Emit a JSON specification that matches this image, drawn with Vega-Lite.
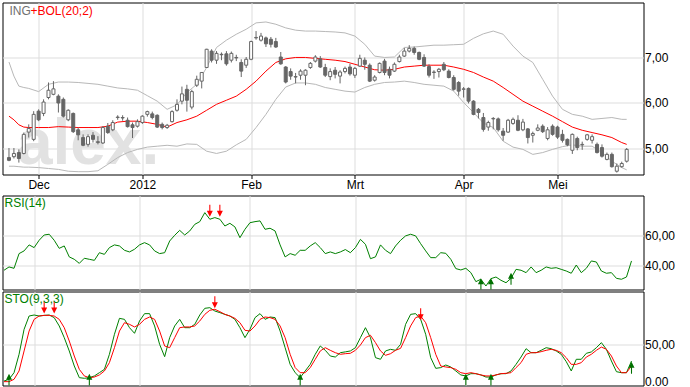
{
  "$schema": "https://vega.github.io/schema/vega-lite/v6.json",
  "background": "white",
  "padding": {"left": 1.5, "top": 1.5, "right": 0, "bottom": 3},
  "spacing": 2,
  "bounds": "flush",
  "config": {
    "font": "Liberation Sans",
    "locale": {"number": {"decimal": ",", "thousands": ".", "grouping": [3], "currency": ["", " €"]}},
    "view": {"stroke": "#000000", "strokeWidth": 1},
    "axis": {"domain": false, "gridColor": "#dddddd", "gridWidth": 1, "labelFont": "Liberation Sans", "labelFontSize": 12, "labelColor": "#000000", "tickColor": "#000000"}
  },
  "datasets": {
    "candles": [
      {"i":0,"o":4.79,"h":5.00,"l":4.71,"c":4.73},{"i":1,"o":4.81,"h":5.00,"l":4.77,"c":4.88},{"i":2,"o":4.90,"h":4.97,"l":4.68,"c":4.77},{"i":3,"o":4.88,"h":5.34,"l":4.86,"c":5.30},
      {"i":4,"o":5.35,"h":5.52,"l":5.23,"c":5.43},{"i":5,"o":5.19,"h":5.81,"l":5.15,"c":5.74},{"i":6,"o":5.81,"h":5.85,"l":5.59,"c":5.62},{"i":7,"o":5.76,"h":6.07,"l":5.70,"c":6.01},
      {"i":8,"o":6.11,"h":6.44,"l":6.07,"c":6.27},{"i":9,"o":6.18,"h":6.47,"l":6.16,"c":6.30},{"i":10,"o":6.14,"h":6.18,"l":5.78,"c":5.99},{"i":11,"o":6.07,"h":6.11,"l":5.67,"c":5.70},
      {"i":12,"o":5.62,"h":5.85,"l":5.59,"c":5.83},{"i":13,"o":5.76,"h":5.78,"l":5.33,"c":5.36},{"i":14,"o":5.40,"h":5.45,"l":5.17,"c":5.29},{"i":15,"o":5.23,"h":5.30,"l":5.04,"c":5.06},
      {"i":16,"o":5.08,"h":5.30,"l":5.03,"c":5.25},{"i":17,"o":5.28,"h":5.35,"l":5.12,"c":5.19},{"i":18,"o":5.12,"h":5.26,"l":5.08,"c":5.14},{"i":19,"o":5.11,"h":5.48,"l":5.09,"c":5.45},
      {"i":20,"o":5.48,"h":5.55,"l":5.31,"c":5.34},{"i":21,"o":5.40,"h":5.61,"l":5.37,"c":5.56},{"i":22,"o":5.67,"h":5.72,"l":5.62,"c":5.68},{"i":23,"o":5.67,"h":5.72,"l":5.60,"c":5.66},
      {"i":24,"o":5.61,"h":5.67,"l":5.45,"c":5.47},{"i":25,"o":5.51,"h":5.56,"l":5.22,"c":5.45},{"i":26,"o":5.48,"h":5.63,"l":5.45,"c":5.58},{"i":27,"o":5.56,"h":5.72,"l":5.53,"c":5.70},
      {"i":28,"o":5.74,"h":5.82,"l":5.69,"c":5.80},{"i":29,"o":5.75,"h":5.80,"l":5.63,"c":5.67},{"i":30,"o":5.72,"h":5.74,"l":5.44,"c":5.46},{"i":31,"o":5.52,"h":5.56,"l":5.41,"c":5.45},
      {"i":32,"o":5.45,"h":5.53,"l":5.42,"c":5.50},{"i":33,"o":5.58,"h":5.83,"l":5.56,"c":5.80},{"i":34,"o":5.83,"h":6.07,"l":5.80,"c":5.96},{"i":35,"o":6.03,"h":6.35,"l":5.96,"c":6.19},
      {"i":36,"o":6.29,"h":6.39,"l":5.80,"c":6.05},{"i":37,"o":5.90,"h":6.28,"l":5.85,"c":6.24},{"i":38,"o":6.38,"h":6.59,"l":6.34,"c":6.51},{"i":39,"o":6.47,"h":6.67,"l":6.31,"c":6.66},
      {"i":40,"o":6.77,"h":7.18,"l":6.77,"c":7.17},{"i":41,"o":7.13,"h":7.17,"l":6.88,"c":6.93},{"i":42,"o":6.93,"h":7.13,"l":6.85,"c":7.08},{"i":43,"o":7.06,"h":7.10,"l":6.93,"c":7.05},
      {"i":44,"o":7.07,"h":7.13,"l":6.81,"c":6.85},{"i":45,"o":6.93,"h":7.12,"l":6.88,"c":7.08},{"i":46,"o":6.99,"h":7.05,"l":6.91,"c":6.98},{"i":47,"o":6.88,"h":6.95,"l":6.56,"c":6.69},
      {"i":48,"o":6.82,"h":7.00,"l":6.76,"c":6.95},{"i":49,"o":6.95,"h":7.36,"l":6.93,"c":7.34},{"i":50,"o":7.42,"h":7.57,"l":7.38,"c":7.43},{"i":51,"o":7.37,"h":7.53,"l":7.34,"c":7.46},
      {"i":52,"o":7.42,"h":7.45,"l":7.22,"c":7.29},{"i":53,"o":7.39,"h":7.44,"l":7.21,"c":7.28},{"i":54,"o":7.34,"h":7.42,"l":7.20,"c":7.22},{"i":55,"o":7.00,"h":7.11,"l":6.83,"c":6.85},
      {"i":56,"o":6.78,"h":6.80,"l":6.42,"c":6.45},{"i":57,"o":6.68,"h":6.75,"l":6.50,"c":6.58},{"i":58,"o":6.56,"h":6.65,"l":6.42,"c":6.57},{"i":59,"o":6.60,"h":6.73,"l":6.50,"c":6.69},
      {"i":60,"o":6.60,"h":6.73,"l":6.38,"c":6.71},{"i":61,"o":6.77,"h":6.89,"l":6.74,"c":6.86},{"i":62,"o":6.91,"h":7.04,"l":6.88,"c":7.00},{"i":63,"o":6.96,"h":7.02,"l":6.76,"c":6.78},
      {"i":64,"o":6.77,"h":6.85,"l":6.56,"c":6.60},{"i":65,"o":6.57,"h":6.75,"l":6.49,"c":6.68},{"i":66,"o":6.71,"h":6.78,"l":6.53,"c":6.62},{"i":67,"o":6.58,"h":6.71,"l":6.42,"c":6.67},
      {"i":68,"o":6.68,"h":6.79,"l":6.64,"c":6.75},{"i":69,"o":6.78,"h":6.85,"l":6.59,"c":6.63},{"i":70,"o":6.60,"h":6.78,"l":6.54,"c":6.75},{"i":71,"o":6.80,"h":7.05,"l":6.78,"c":6.97},
      {"i":72,"o":6.93,"h":6.99,"l":6.72,"c":6.84},{"i":73,"o":6.82,"h":6.86,"l":6.45,"c":6.47},{"i":74,"o":6.49,"h":6.60,"l":6.46,"c":6.56},{"i":75,"o":6.66,"h":6.88,"l":6.64,"c":6.86},
      {"i":76,"o":6.91,"h":6.96,"l":6.60,"c":6.66},{"i":77,"o":6.73,"h":6.79,"l":6.53,"c":6.60},{"i":78,"o":6.69,"h":6.88,"l":6.67,"c":6.84},{"i":79,"o":6.90,"h":7.05,"l":6.88,"c":7.00},
      {"i":80,"o":7.02,"h":7.20,"l":7.00,"c":7.13},{"i":81,"o":7.13,"h":7.26,"l":7.10,"c":7.19},{"i":82,"o":7.19,"h":7.23,"l":7.05,"c":7.10},{"i":83,"o":7.10,"h":7.12,"l":6.93,"c":6.95},
      {"i":84,"o":6.99,"h":7.06,"l":6.78,"c":6.80},{"i":85,"o":6.79,"h":6.84,"l":6.55,"c":6.60},{"i":86,"o":6.66,"h":6.71,"l":6.52,"c":6.67},{"i":87,"o":6.68,"h":6.76,"l":6.55,"c":6.73},
      {"i":88,"o":6.84,"h":6.89,"l":6.69,"c":6.72},{"i":89,"o":6.69,"h":6.73,"l":6.53,"c":6.55},{"i":90,"o":6.55,"h":6.60,"l":6.26,"c":6.29},{"i":91,"o":6.44,"h":6.47,"l":6.15,"c":6.25},
      {"i":92,"o":6.29,"h":6.34,"l":6.11,"c":6.30},{"i":93,"o":6.31,"h":6.33,"l":5.98,"c":6.03},{"i":94,"o":6.03,"h":6.05,"l":5.72,"c":5.74},{"i":95,"o":5.85,"h":5.88,"l":5.65,"c":5.78},
      {"i":96,"o":5.67,"h":5.77,"l":5.36,"c":5.41},{"i":97,"o":5.46,"h":5.60,"l":5.38,"c":5.56},{"i":98,"o":5.64,"h":5.68,"l":5.41,"c":5.65},{"i":99,"o":5.64,"h":5.67,"l":5.36,"c":5.40},
      {"i":100,"o":5.37,"h":5.44,"l":5.16,"c":5.28},{"i":101,"o":5.35,"h":5.64,"l":5.33,"c":5.61},{"i":102,"o":5.54,"h":5.67,"l":5.51,"c":5.63},{"i":103,"o":5.61,"h":5.72,"l":5.37,"c":5.39},
      {"i":104,"o":5.40,"h":5.64,"l":5.37,"c":5.57},{"i":105,"o":5.42,"h":5.44,"l":5.10,"c":5.23},{"i":106,"o":5.28,"h":5.36,"l":5.12,"c":5.32},{"i":107,"o":5.39,"h":5.52,"l":5.37,"c":5.44},
      {"i":108,"o":5.48,"h":5.52,"l":5.33,"c":5.36},{"i":109,"o":5.21,"h":5.46,"l":5.17,"c":5.40},{"i":110,"o":5.48,"h":5.52,"l":5.27,"c":5.30},{"i":111,"o":5.46,"h":5.49,"l":5.20,"c":5.24},
      {"i":112,"o":5.30,"h":5.40,"l":5.12,"c":5.17},{"i":113,"o":5.19,"h":5.21,"l":5.04,"c":5.07},{"i":114,"o":4.95,"h":5.32,"l":4.87,"c":5.30},{"i":115,"o":5.21,"h":5.25,"l":4.95,"c":5.01},
      {"i":116,"o":5.07,"h":5.14,"l":4.96,"c":5.08},{"i":117,"o":5.19,"h":5.31,"l":5.16,"c":5.29},{"i":118,"o":5.17,"h":5.30,"l":5.10,"c":5.25},{"i":119,"o":5.08,"h":5.12,"l":4.88,"c":4.90},
      {"i":120,"o":5.01,"h":5.08,"l":4.79,"c":4.82},{"i":121,"o":4.75,"h":4.90,"l":4.73,"c":4.86},{"i":122,"o":4.86,"h":4.90,"l":4.57,"c":4.59},{"i":123,"o":4.49,"h":4.66,"l":4.46,"c":4.60},
      {"i":124,"o":4.59,"h":4.70,"l":4.57,"c":4.66},{"i":125,"o":4.71,"h":5.00,"l":4.68,"c":4.97}
    ],
    "bands": [
      {"i":0,"u":6.89,"m":5.70,"lo":4.60},{"i":1,"u":6.58,"m":5.62,"lo":4.60},{"i":2,"u":6.36,"m":5.51,"lo":4.59},{"i":3,"u":6.33,"m":5.46,"lo":4.58},{"i":4,"u":6.31,"m":5.45,"lo":4.58},
      {"i":6,"u":6.24,"m":5.45,"lo":4.57},{"i":8,"u":6.40,"m":5.45,"lo":4.55},{"i":10,"u":6.45,"m":5.47,"lo":4.53},{"i":12,"u":6.45,"m":5.46,"lo":4.49},{"i":14,"u":6.44,"m":5.45,"lo":4.48},
      {"i":16,"u":6.42,"m":5.45,"lo":4.48},{"i":18,"u":6.40,"m":5.45,"lo":4.50},{"i":20,"u":6.36,"m":5.48,"lo":4.64},{"i":22,"u":6.32,"m":5.57,"lo":4.79},{"i":24,"u":6.30,"m":5.59,"lo":4.90},
      {"i":26,"u":6.27,"m":5.59,"lo":4.97},{"i":28,"u":6.15,"m":5.56,"lo":5.02},{"i":30,"u":6.03,"m":5.52,"lo":5.04},{"i":32,"u":5.85,"m":5.46,"lo":5.06},{"i":34,"u":5.95,"m":5.56,"lo":5.04},
      {"i":36,"u":6.22,"m":5.62,"lo":5.09},{"i":38,"u":6.40,"m":5.70,"lo":5.08},{"i":40,"u":6.77,"m":5.83,"lo":4.93},{"i":42,"u":7.21,"m":5.96,"lo":4.88},{"i":44,"u":7.37,"m":6.05,"lo":4.93},
      {"i":46,"u":7.50,"m":6.14,"lo":5.07},{"i":48,"u":7.61,"m":6.29,"lo":5.19},{"i":50,"u":7.75,"m":6.47,"lo":5.45},{"i":52,"u":7.77,"m":6.69,"lo":5.74},{"i":54,"u":7.72,"m":6.88,"lo":6.07},
      {"i":56,"u":7.64,"m":6.96,"lo":6.34},{"i":58,"u":7.59,"m":6.99,"lo":6.43},{"i":60,"u":7.57,"m":6.99,"lo":6.43},{"i":62,"u":7.57,"m":6.97,"lo":6.40},{"i":64,"u":7.56,"m":6.95,"lo":6.33},
      {"i":66,"u":7.55,"m":6.93,"lo":6.29},{"i":68,"u":7.53,"m":6.90,"lo":6.25},{"i":70,"u":7.46,"m":6.84,"lo":6.23},{"i":72,"u":7.28,"m":6.78,"lo":6.33},{"i":74,"u":7.02,"m":6.72,"lo":6.40},
      {"i":76,"u":6.99,"m":6.71,"lo":6.44},{"i":78,"u":7.00,"m":6.73,"lo":6.45},{"i":80,"u":7.21,"m":6.78,"lo":6.47},{"i":82,"u":7.22,"m":6.80,"lo":6.44},{"i":84,"u":7.24,"m":6.82,"lo":6.40},
      {"i":86,"u":7.26,"m":6.82,"lo":6.38},{"i":88,"u":7.26,"m":6.82,"lo":6.36},{"i":90,"u":7.27,"m":6.78,"lo":6.25},{"i":92,"u":7.28,"m":6.73,"lo":6.00},{"i":94,"u":7.41,"m":6.66,"lo":5.78},
      {"i":96,"u":7.51,"m":6.56,"lo":5.55},{"i":98,"u":7.57,"m":6.47,"lo":5.45},{"i":100,"u":7.50,"m":6.33,"lo":5.15},{"i":102,"u":7.24,"m":6.18,"lo":5.02},{"i":104,"u":7.02,"m":6.03,"lo":4.97},
      {"i":106,"u":6.88,"m":5.92,"lo":4.86},{"i":108,"u":6.51,"m":5.81,"lo":4.90},{"i":110,"u":6.14,"m":5.70,"lo":4.97},{"i":112,"u":5.85,"m":5.58,"lo":5.03},{"i":114,"u":5.74,"m":5.46,"lo":5.07},
      {"i":116,"u":5.70,"m":5.39,"lo":5.04},{"i":118,"u":5.63,"m":5.34,"lo":5.04},{"i":120,"u":5.65,"m":5.29,"lo":4.90},{"i":122,"u":5.67,"m":5.23,"lo":4.71},{"i":124,"u":5.63,"m":5.12,"lo":4.57},
      {"i":125,"u":5.63,"m":5.08,"lo":4.52}
    ],
    "ind": [
      {"i":0,"rsi":36.7,"k":9.3,"d":8.6},{"i":1,"rsi":38.9,"k":11.2,"d":8.6},{"i":2,"rsi":38.0,"k":18.5,"d":11.2},{"i":3,"rsi":47.8,"k":38.8,"d":20.4},
      {"i":4,"rsi":49.6,"k":66.4,"d":42.5},{"i":5,"rsi":53.6,"k":81.1,"d":64.5},{"i":6,"rsi":51.8,"k":82.2,"d":77.4},{"i":7,"rsi":56.7,"k":81.1,"d":81.1},
      {"i":8,"rsi":60.2,"k":81.8,"d":81.8},{"i":9,"rsi":60.7,"k":82.2,"d":81.8},{"i":10,"rsi":56.7,"k":79.3,"d":81.1},{"i":11,"rsi":51.3,"k":70.1,"d":77.4},
      {"i":12,"rsi":52.9,"k":57.2,"d":68.2},{"i":13,"rsi":45.6,"k":42.5,"d":53.5},{"i":14,"rsi":44.0,"k":25.9,"d":36.9},{"i":15,"rsi":41.3,"k":13.0,"d":22.2},
      {"i":16,"rsi":44.7,"k":12.3,"d":14.9},{"i":17,"rsi":44.0,"k":13.0,"d":13.0},{"i":18,"rsi":43.3,"k":14.9,"d":13.7},{"i":19,"rsi":48.4,"k":18.5,"d":16.0},
      {"i":20,"rsi":47.3,"k":22.2,"d":20.4},{"i":21,"rsi":51.8,"k":38.8,"d":29.6},{"i":22,"rsi":53.6,"k":60.9,"d":46.1},{"i":23,"rsi":52.9,"k":78.5,"d":64.5},
      {"i":24,"rsi":50.0,"k":77.4,"d":73.7},{"i":25,"rsi":48.9,"k":68.2,"d":71.9},{"i":26,"rsi":50.7,"k":62.0,"d":69.0},{"i":27,"rsi":53.6,"k":75.6,"d":71.9},
      {"i":28,"rsi":55.1,"k":83.7,"d":77.4},{"i":29,"rsi":53.6,"k":83.7,"d":80.0},{"i":30,"rsi":49.6,"k":70.1,"d":77.4},{"i":31,"rsi":47.8,"k":49.8,"d":64.5},
      {"i":32,"rsi":48.4,"k":36.2,"d":48.0},{"i":33,"rsi":56.2,"k":57.2,"d":46.1},{"i":34,"rsi":60.0,"k":70.1,"d":57.2},{"i":35,"rsi":63.3,"k":77.4,"d":68.2},
      {"i":36,"rsi":60.2,"k":68.2,"d":69.0},{"i":37,"rsi":62.9,"k":68.2,"d":69.0},{"i":38,"rsi":67.3,"k":71.9,"d":70.1},{"i":39,"rsi":69.1,"k":82.2,"d":75.6},
      {"i":40,"rsi":75.1,"k":89.6,"d":82.9},{"i":41,"rsi":70.7,"k":90.3,"d":87.4},{"i":42,"rsi":71.8,"k":86.6,"d":88.5},{"i":43,"rsi":70.7,"k":84.8,"d":85.9},
      {"i":44,"rsi":66.2,"k":82.9,"d":82.9},{"i":45,"rsi":68.0,"k":81.1,"d":81.1},{"i":46,"rsi":65.6,"k":77.4,"d":78.5},{"i":47,"rsi":58.4,"k":68.2,"d":73.7},
      {"i":48,"rsi":64.0,"k":57.2,"d":65.3},{"i":49,"rsi":68.4,"k":66.4,"d":64.5},{"i":50,"rsi":69.1,"k":79.3,"d":70.1},{"i":51,"rsi":69.6,"k":83.7,"d":77.4},
      {"i":52,"rsi":64.0,"k":77.4,"d":80.0},{"i":53,"rsi":64.7,"k":80.0,"d":79.3},{"i":54,"rsi":62.9,"k":79.3,"d":77.4},{"i":55,"rsi":53.6,"k":64.5,"d":70.1},
      {"i":56,"rsi":45.6,"k":46.1,"d":57.2},{"i":57,"rsi":47.8,"k":27.7,"d":38.8},{"i":58,"rsi":46.7,"k":18.5,"d":24.1},{"i":59,"rsi":50.0,"k":13.0,"d":18.5},
      {"i":60,"rsi":50.0,"k":20.4,"d":18.5},{"i":61,"rsi":52.9,"k":27.7,"d":24.1},{"i":62,"rsi":55.1,"k":38.8,"d":33.3},{"i":63,"rsi":51.8,"k":48.0,"d":42.5},
      {"i":64,"rsi":47.8,"k":43.2,"d":46.1},{"i":65,"rsi":48.9,"k":36.9,"d":43.2},{"i":66,"rsi":47.8,"k":35.8,"d":40.6},{"i":67,"rsi":48.9,"k":40.6,"d":38.8},
      {"i":68,"rsi":50.5,"k":41.5,"d":39.5},{"i":69,"rsi":48.4,"k":42.5,"d":39.9},{"i":70,"rsi":51.8,"k":46.1,"d":43.2},{"i":71,"rsi":57.3,"k":57.2,"d":49.1},
      {"i":72,"rsi":54.0,"k":68.2,"d":57.2},{"i":73,"rsi":44.4,"k":57.2,"d":59.8},{"i":74,"rsi":45.6,"k":35.1,"d":51.7},{"i":75,"rsi":53.6,"k":33.3,"d":42.5},
      {"i":76,"rsi":50.0,"k":42.5,"d":37.7},{"i":77,"rsi":47.8,"k":44.3,"d":39.5},{"i":78,"rsi":52.9,"k":43.2,"d":43.2},{"i":79,"rsi":56.7,"k":49.8,"d":45.4},
      {"i":80,"rsi":59.6,"k":71.9,"d":57.2},{"i":81,"rsi":60.7,"k":82.9,"d":70.1},{"i":82,"rsi":59.6,"k":83.7,"d":79.3},{"i":83,"rsi":54.4,"k":77.4,"d":81.1},
      {"i":84,"rsi":49.6,"k":60.9,"d":73.7},{"i":85,"rsi":45.1,"k":35.1,"d":57.2},{"i":86,"rsi":45.1,"k":23.3,"d":38.8},{"i":87,"rsi":48.4,"k":24.1,"d":25.9},
      {"i":88,"rsi":48.0,"k":27.0,"d":24.8},{"i":89,"rsi":44.0,"k":24.8,"d":24.1},{"i":90,"rsi":37.8,"k":20.4,"d":22.2},{"i":91,"rsi":36.9,"k":16.0,"d":18.5},
      {"i":92,"rsi":38.0,"k":14.9,"d":17.4},{"i":93,"rsi":35.1,"k":17.4,"d":18.5},{"i":94,"rsi":29.1,"k":17.4,"d":17.4},{"i":95,"rsi":30.7,"k":16.0,"d":16.0},
      {"i":96,"rsi":26.2,"k":13.7,"d":14.9},{"i":97,"rsi":31.1,"k":13.7,"d":14.9},{"i":98,"rsi":32.2,"k":16.0,"d":16.0},{"i":99,"rsi":30.0,"k":17.4,"d":17.4},
      {"i":100,"rsi":28.4,"k":17.4,"d":17.8},{"i":101,"rsi":31.3,"k":20.4,"d":18.5},{"i":102,"rsi":37.3,"k":27.7,"d":24.1},{"i":103,"rsi":36.7,"k":35.8,"d":29.6},
      {"i":104,"rsi":35.1,"k":45.0,"d":38.8},{"i":105,"rsi":38.9,"k":40.6,"d":40.6},{"i":106,"rsi":35.1,"k":40.6,"d":40.6},{"i":107,"rsi":36.7,"k":43.2,"d":41.7},
      {"i":108,"rsi":38.9,"k":46.1,"d":43.2},{"i":109,"rsi":38.0,"k":45.0,"d":44.3},{"i":110,"rsi":38.4,"k":42.5,"d":43.2},{"i":111,"rsi":37.3,"k":38.8,"d":40.6},
      {"i":112,"rsi":36.2,"k":30.7,"d":35.1},{"i":113,"rsi":34.7,"k":20.4,"d":27.7},{"i":114,"rsi":40.2,"k":33.3,"d":27.7},{"i":115,"rsi":35.1,"k":33.3,"d":29.6},
      {"i":116,"rsi":38.0,"k":39.9,"d":35.8},{"i":117,"rsi":42.9,"k":41.4,"d":38.8},{"i":118,"rsi":42.2,"k":46.1,"d":43.2},{"i":119,"rsi":36.2,"k":51.7,"d":46.8},
      {"i":120,"rsi":34.7,"k":44.3,"d":44.3},{"i":121,"rsi":35.1,"k":31.4,"d":36.9},{"i":122,"rsi":31.3,"k":19.6,"d":25.9},{"i":123,"rsi":30.7,"k":18.5,"d":18.5},
      {"i":124,"rsi":32.2,"k":18.5,"d":18.5},{"i":125,"rsi":42.9,"k":31.4,"d":25.9}
    ],
    "signals": [
      {"panel":"RSI","i":41,"v":72.4,"dir":"sell"},{"panel":"RSI","i":43,"v":72.4,"dir":"sell"},
      {"panel":"RSI","i":95,"v":31.3,"dir":"buy"},{"panel":"RSI","i":97,"v":31.3,"dir":"buy"},{"panel":"RSI","i":101,"v":35.1,"dir":"buy"},
      {"panel":"STO","i":1,"v":17.4,"dir":"buy"},{"panel":"STO","i":8,"v":84.0,"dir":"sell"},{"panel":"STO","i":10,"v":84.0,"dir":"sell"},
      {"panel":"STO","i":17,"v":17.4,"dir":"buy"},{"panel":"STO","i":42,"v":89.6,"dir":"sell"},{"panel":"STO","i":59,"v":17.4,"dir":"buy"},
      {"panel":"STO","i":83,"v":76.5,"dir":"sell"},{"panel":"STO","i":92,"v":17.4,"dir":"buy"},{"panel":"STO","i":97,"v":17.4,"dir":"buy"},
      {"panel":"STO","i":125,"v":30.7,"dir":"buy"}
    ],
    "levels": [
      {"panel":"RSI","level":70},{"panel":"RSI","level":30},{"panel":"STO","level":80},{"panel":"STO","level":20}
    ]
  },
  "resolve": {"scale": {"x": "independent", "y": "independent"}},
  "vconcat": [
    {
      "width": 641, "height": 172,
      "encoding": {
        "x": {"field": "i", "type": "quantitative",
          "scale": {"domain": [-0.299, 127.39], "nice": false, "zero": false},
          "axis": {"values": [6, 27, 49, 70, 92, 111],
            "labelExpr": "datum.value == 6 ? 'Dec' : datum.value == 27 ? '2012' : datum.value == 49 ? 'Feb' : datum.value == 70 ? 'Mrt' : datum.value == 92 ? 'Apr' : 'Mei'",
            "grid": true, "ticks": true, "tickSize": 4, "labelBaseline": "middle", "labelPadding": 6, "labelFlush": false, "labelOverlap": false, "title": null}}
      },
      "layer": [
        {"data": {"name": "candles"}, "transform": [{"filter": "datum.i == 0"}],
         "mark": {"type": "text", "text": "alex.", "font": "Liberation Sans", "fontWeight": "bold", "fontSize": 64, "color": "#e2e2e2", "align": "left", "baseline": "alphabetic"},
         "encoding": {"x": {"datum": 1.6, "type": "quantitative"}, "y": {"datum": 4.64, "type": "quantitative", "scale": {"domain": [4.418, 8.198], "nice": false, "zero": false}, "axis": {"orient": "right", "values": [5, 6, 7], "format": ".2f", "ticks": false, "labelPadding": 1, "grid": true, "title": null}}}},
        {"data": {"name": "bands"},
         "mark": {"type": "line", "color": "#b8b8b8", "strokeWidth": 1},
         "encoding": {"y": {"field": "u", "type": "quantitative", "scale": {"domain": [4.418, 8.198], "nice": false, "zero": false},
           "axis": {"orient": "right", "values": [5, 6, 7], "format": ".2f", "ticks": false, "labelPadding": 1, "grid": true, "title": null}}}},
        {"data": {"name": "bands"},
         "mark": {"type": "line", "color": "#b8b8b8", "strokeWidth": 1},
         "encoding": {"y": {"field": "lo", "type": "quantitative", "scale": {"domain": [4.418, 8.198], "nice": false, "zero": false}, "axis": {"orient": "right", "values": [5, 6, 7], "format": ".2f", "ticks": false, "labelPadding": 1, "grid": true, "title": null}}}},
        {"data": {"name": "bands"},
         "mark": {"type": "line", "color": "#ff0000", "strokeWidth": 1},
         "encoding": {"y": {"field": "m", "type": "quantitative", "scale": {"domain": [4.418, 8.198], "nice": false, "zero": false}, "axis": {"orient": "right", "values": [5, 6, 7], "format": ".2f", "ticks": false, "labelPadding": 1, "grid": true, "title": null}}}},
        {"data": {"name": "candles"},
         "mark": {"type": "rule", "color": "#666666", "strokeWidth": 1},
         "encoding": {"y": {"field": "l", "type": "quantitative", "scale": {"domain": [4.418, 8.198], "nice": false, "zero": false}, "axis": {"orient": "right", "values": [5, 6, 7], "format": ".2f", "ticks": false, "labelPadding": 1, "grid": true, "title": null}}, "y2": {"field": "h"}}},
        {"data": {"name": "candles"},
         "mark": {"type": "bar", "width": 3, "stroke": "#666666", "strokeWidth": 1},
         "encoding": {"y": {"field": "o", "type": "quantitative", "scale": {"domain": [4.418, 8.198], "nice": false, "zero": false}, "axis": {"orient": "right", "values": [5, 6, 7], "format": ".2f", "ticks": false, "labelPadding": 1, "grid": true, "title": null}}, "y2": {"field": "c"},
           "fill": {"condition": {"test": "datum.c >= datum.o", "value": "#ffffff"}, "value": "#666666"}}},
        {"data": {"name": "candles"}, "transform": [{"filter": "datum.i == 0"}],
         "mark": {"type": "text", "text": "ING", "fontSize": 12, "color": "#707070", "align": "left", "baseline": "alphabetic", "dx": 2, "dy": 12.5},
         "encoding": {"x": {"datum": -0.299, "type": "quantitative"}, "y": {"datum": 8.198, "type": "quantitative", "axis": {"orient": "right", "values": [5, 6, 7], "format": ".2f", "ticks": false, "labelPadding": 1, "grid": true, "title": null}}}},
        {"data": {"name": "candles"}, "transform": [{"filter": "datum.i == 0"}],
         "mark": {"type": "text", "text": "+BOL(20;2)", "fontSize": 12, "color": "#ff0000", "align": "left", "baseline": "alphabetic", "dx": 23, "dy": 12.5},
         "encoding": {"x": {"datum": -0.299, "type": "quantitative"}, "y": {"datum": 8.198, "type": "quantitative", "axis": {"orient": "right", "values": [5, 6, 7], "format": ".2f", "ticks": false, "labelPadding": 1, "grid": true, "title": null}}}}
      ]
    },
    {
      "width": 641, "height": 17,
      "view": {"stroke": null},
      "data": {"values": []},
      "mark": {"type": "point", "opacity": 0},
      "encoding": {}
    },
    {
      "width": 641, "height": 94,
      "title": {"text": "RSI(14)", "anchor": "start", "orient": "top", "frame": "group", "offset": -14, "dx": 2, "color": "#008000", "fontSize": 12, "fontWeight": "normal", "font": "Liberation Sans"},
      "encoding": {
        "x": {"field": "i", "type": "quantitative",
          "scale": {"domain": [-0.299, 127.39], "nice": false, "zero": false},
          "axis": {"values": [6, 27, 49, 70, 92, 111], "labels": false, "ticks": false, "grid": true, "title": null}}
      },
      "layer": [
        {"data": {"name": "levels"}, "transform": [{"filter": "datum.panel == 'RSI'"}],
         "mark": {"type": "rule", "color": "#808080", "strokeWidth": 1},
         "encoding": {"x": {"datum": -0.299}, "x2": {"datum": 125},
           "y": {"field": "level", "type": "quantitative", "scale": {"domain": [23.87, 86.53], "nice": false, "zero": false}, "axis": {"orient": "right", "values": [40, 60], "format": ".2f", "ticks": false, "labelPadding": 1, "grid": true, "title": null}}}},
        {"data": {"name": "ind"},
         "mark": {"type": "line", "color": "#008000", "strokeWidth": 1},
         "encoding": {"y": {"field": "rsi", "type": "quantitative", "scale": {"domain": [23.87, 86.53], "nice": false, "zero": false},
           "axis": {"orient": "right", "values": [40, 60], "format": ".2f", "ticks": false, "labelPadding": 1, "grid": true, "title": null}}}},
        {"data": {"name": "signals"}, "transform": [{"filter": "datum.panel == 'RSI'"}],
         "mark": {"type": "point", "filled": true, "opacity": 1, "size": 144, "strokeWidth": 0, "clip": true},
         "encoding": {"y": {"field": "v", "type": "quantitative", "scale": {"domain": [23.87, 86.53], "nice": false, "zero": false}, "axis": {"orient": "right", "values": [40, 60], "format": ".2f", "ticks": false, "labelPadding": 1, "grid": true, "title": null}},
           "shape": {"field": "dir", "type": "nominal", "scale": {"domain": ["buy", "sell"], "range": ["M0,0L-0.5,1L-0.09,1L-0.09,2L0.09,2L0.09,1L0.5,1Z", "M0,0L-0.5,-1L-0.09,-1L-0.09,-2L0.09,-2L0.09,-1L0.5,-1Z"]}, "legend": null},
           "color": {"field": "dir", "type": "nominal", "scale": {"domain": ["buy", "sell"], "range": ["#007000", "#ff0000"]}, "legend": null}}}
      ]
    },
    {
      "width": 641, "height": 94,
      "title": {"text": "STO(9,3,3)", "anchor": "start", "orient": "top", "frame": "group", "offset": -14, "dx": 2, "color": "#008000", "fontSize": 12, "fontWeight": "normal", "font": "Liberation Sans"},
      "encoding": {
        "x": {"field": "i", "type": "quantitative",
          "scale": {"domain": [-0.299, 127.39], "nice": false, "zero": false},
          "axis": {"values": [6, 27, 49, 70, 92, 111], "labels": false, "ticks": false, "grid": true, "title": null}}
      },
      "layer": [
        {"data": {"name": "levels"}, "transform": [{"filter": "datum.panel == 'STO'"}],
         "mark": {"type": "rule", "color": "#808080", "strokeWidth": 1},
         "encoding": {"x": {"datum": -0.299}, "x2": {"datum": 125},
           "y": {"field": "level", "type": "quantitative", "scale": {"domain": [4.35, 108.16], "nice": false, "zero": false}, "axis": {"orient": "right", "values": [8.5, 50], "format": ".2f", "labelExpr": "datum.value < 10 ? '0.00' : datum.label", "ticks": false, "labelPadding": 1, "grid": true, "title": null, "gridOpacity": {"condition": {"test": "datum.value < 10", "value": 0}, "value": 1}}}}},
        {"data": {"name": "ind"},
         "mark": {"type": "line", "color": "#008000", "strokeWidth": 1},
         "encoding": {"y": {"field": "k", "type": "quantitative", "scale": {"domain": [4.35, 108.16], "nice": false, "zero": false},
           "axis": {"orient": "right", "values": [8.5, 50], "format": ".2f", "labelExpr": "datum.value < 10 ? '0.00' : datum.label", "ticks": false, "labelPadding": 1, "grid": true, "title": null, "gridOpacity": {"condition": {"test": "datum.value < 10", "value": 0}, "value": 1}}}}},
        {"data": {"name": "ind"},
         "mark": {"type": "line", "color": "#ff0000", "strokeWidth": 1},
         "encoding": {"y": {"field": "d", "type": "quantitative", "scale": {"domain": [4.35, 108.16], "nice": false, "zero": false}, "axis": {"orient": "right", "values": [8.5, 50], "format": ".2f", "labelExpr": "datum.value < 10 ? '0.00' : datum.label", "ticks": false, "labelPadding": 1, "grid": true, "title": null, "gridOpacity": {"condition": {"test": "datum.value < 10", "value": 0}, "value": 1}}}}},
        {"data": {"name": "signals"}, "transform": [{"filter": "datum.panel == 'STO'"}],
         "mark": {"type": "point", "filled": true, "opacity": 1, "size": 144, "strokeWidth": 0, "clip": true},
         "encoding": {"y": {"field": "v", "type": "quantitative", "scale": {"domain": [4.35, 108.16], "nice": false, "zero": false}, "axis": {"orient": "right", "values": [8.5, 50], "format": ".2f", "labelExpr": "datum.value < 10 ? '0.00' : datum.label", "ticks": false, "labelPadding": 1, "grid": true, "title": null, "gridOpacity": {"condition": {"test": "datum.value < 10", "value": 0}, "value": 1}}},
           "shape": {"field": "dir", "type": "nominal", "scale": {"domain": ["buy", "sell"], "range": ["M0,0L-0.5,1L-0.09,1L-0.09,2L0.09,2L0.09,1L0.5,1Z", "M0,0L-0.5,-1L-0.09,-1L-0.09,-2L0.09,-2L0.09,-1L0.5,-1Z"]}, "legend": null},
           "color": {"field": "dir", "type": "nominal", "scale": {"domain": ["buy", "sell"], "range": ["#007000", "#ff0000"]}, "legend": null}}}
      ]
    }
  ]
}
